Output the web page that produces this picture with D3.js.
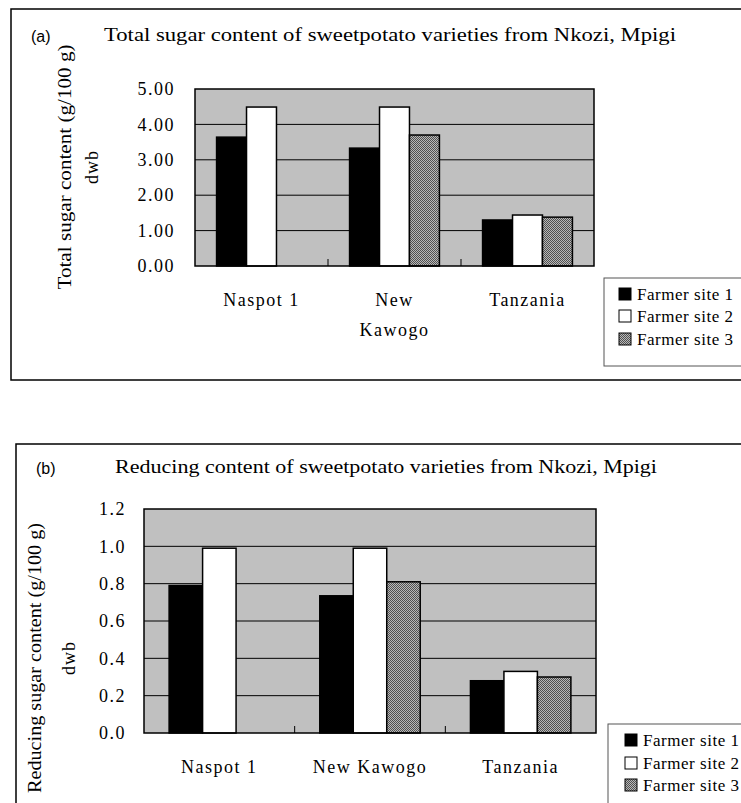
<!DOCTYPE html>
<html>
<head>
<meta charset="utf-8">
<script src="https://cdn.jsdelivr.net/npm/d3@7"></script>
<style>
  html, body { margin: 0; padding: 0; background: #fff; }
  svg { display: block; }
</style>
</head>
<body>
<svg id="chart" width="741" height="803"></svg>
<script>
// ---- data ----
const categories = ["Naspot 1", "New Kawogo", "Tanzania"];
const categoryLinesA = [["Naspot 1"], ["New", "Kawogo"], ["Tanzania"]];
const seriesNames = ["Farmer site 1", "Farmer site 2", "Farmer site 3"];

const totalSite1 = [3.64, 3.33, 1.30];
const totalSite2 = [4.49, 4.49, 1.44];
const totalSite3 = [null, 3.70, 1.38];
const totalTicks = [0, 1, 2, 3, 4, 5];

const reducingSite1 = [0.79, 0.735, 0.28];
const reducingSite2 = [0.99, 0.99, 0.33];
const reducingSite3 = [null, 0.81, 0.30];
const reducingTicks = [0, 0.2, 0.4, 0.6, 0.8, 1.0, 1.2];

const titleA = "Total sugar content of sweetpotato varieties from Nkozi, Mpigi";
const titleB = "Reducing content of sweetpotato varieties from Nkozi, Mpigi";
const yLabelA = "Total sugar content (g/100 g)";
const yLabelB = "Reducing sugar content (g/100 g)";

// ---- drawing ----
const svg = d3.select("#chart");
const serif = "Liberation Serif";
const sans = "Liberation Sans";

const defs = svg.append("defs");
const pat = defs.append("pattern").attr("id", "dots")
  .attr("patternUnits", "userSpaceOnUse").attr("width", 2).attr("height", 2);
pat.append("rect").attr("width", 2).attr("height", 2).attr("fill", "#b8b8b8");
pat.append("rect").attr("x", 0).attr("y", 0).attr("width", 1).attr("height", 1).attr("fill", "#505050");
pat.append("rect").attr("x", 1).attr("y", 1).attr("width", 1).attr("height", 1).attr("fill", "#505050");

const fills = ["#000", "#fff", "url(#dots)"];

function drawPanel(cfg) {
  const g = svg.append("g");
  // outer frame
  g.append("rect").attr("x", cfg.frame[0]).attr("y", cfg.frame[1])
    .attr("width", cfg.frame[2]).attr("height", cfg.frame[3])
    .attr("fill", "none").attr("stroke", "#000").attr("stroke-width", 1.5);

  g.append("text").attr("x", cfg.tagX).attr("y", cfg.titleY + 2)
    .style("font-family", sans).style("font-size", "16px").attr("dominant-baseline", "central")
    .text(cfg.tag);
  g.append("text").attr("x", cfg.titleX).attr("y", cfg.titleY)
    .style("font-family", serif).style("font-size", "19px").attr("dominant-baseline", "central")
    .attr("textLength", cfg.titleLen).attr("lengthAdjust", "spacingAndGlyphs")
    .text(cfg.title);

  const [x0, x1, y0, y1] = cfg.plot; // left, right, top, bottom
  const x = d3.scaleBand().domain(categories).range([x0, x1]).paddingInner(0).paddingOuter(0);
  const xs = d3.scaleBand().domain(seriesNames).range([0, x.bandwidth()])
    .paddingInner(0).paddingOuter(cfg.outerPad);
  const y = d3.scaleLinear().domain(cfg.domain).range([y1, y0]);

  g.append("rect").attr("x", x0).attr("y", y0).attr("width", x1 - x0).attr("height", y1 - y0)
    .attr("fill", "#c0c0c0");

  // gridlines
  g.selectAll(".grid").data(cfg.ticks.slice(1, -1)).join("line")
    .attr("x1", x0).attr("x2", x1).attr("y1", d => y(d)).attr("y2", d => y(d))
    .attr("stroke", "#000").attr("stroke-width", 1);

  // bars
  const data = [];
  cfg.series.forEach((vals, si) => vals.forEach((v, ci) => {
    if (v != null) data.push({ c: categories[ci], s: seriesNames[si], si, v });
  }));
  g.selectAll(".bar").data(data).join("rect")
    .attr("x", d => x(d.c) + xs(d.s))
    .attr("y", d => y(d.v))
    .attr("width", xs.bandwidth())
    .attr("height", d => y(0) - y(d.v))
    .attr("fill", d => fills[d.si])
    .attr("stroke", "#000").attr("stroke-width", 1.5);

  // plot border
  g.append("rect").attr("x", x0).attr("y", y0).attr("width", x1 - x0).attr("height", y1 - y0)
    .attr("fill", "none").attr("stroke", "#000").attr("stroke-width", 1.5);

  // category tick marks (internal boundaries, pointing up)
  g.selectAll(".ctick").data(categories.slice(1)).join("line")
    .attr("x1", d => x(d)).attr("x2", d => x(d))
    .attr("y1", y1).attr("y2", y1 - 7)
    .attr("stroke", "#000").attr("stroke-width", 1);

  // y axis labels
  const yAxis = d3.axisLeft(y).tickValues(cfg.ticks).tickFormat(d3.format(cfg.fmt))
    .tickSize(0).tickPadding(cfg.tickPad);
  const ya = g.append("g").attr("transform", `translate(${x0},0)`).call(yAxis);
  ya.attr("font-family", null).attr("font-size", null);
  ya.select(".domain").remove();
  ya.selectAll("text").style("font-family", serif).style("font-size", "18px")
    .attr("letter-spacing", "1.5px").attr("fill", "#000");

  // category labels
  cfg.catLines.forEach((lines, i) => {
    const cx = x(categories[i]) + x.bandwidth() / 2;
    lines.forEach((ln, j) => {
      g.append("text").attr("x", cx).attr("y", cfg.catY + j * 30)
        .attr("text-anchor", "middle").attr("dominant-baseline", "central")
        .style("font-family", serif).style("font-size", "18px").attr("letter-spacing", "1.5px")
        .text(ln);
    });
  });

  // y title (two lines)
  g.append("text").attr("transform", `translate(${cfg.yLabX[0]},${cfg.yLabY}) rotate(-90)`)
    .attr("text-anchor", "middle").attr("dominant-baseline", "central")
    .style("font-family", serif).style("font-size", "18px")
    .attr("textLength", cfg.yLabLen).attr("lengthAdjust", "spacingAndGlyphs")
    .text(cfg.yLabel);
  g.append("text").attr("transform", `translate(${cfg.yLabX[1]},${cfg.yLabY}) rotate(-90)`)
    .attr("text-anchor", "middle").attr("dominant-baseline", "central")
    .style("font-family", serif).style("font-size", "18px").attr("letter-spacing", "1px")
    .text("dwb");

  // legend
  const [lx, ly, lw, lh] = cfg.legend;
  g.append("rect").attr("x", lx).attr("y", ly).attr("width", lw).attr("height", lh)
    .attr("fill", "#fff").attr("stroke", "#555").attr("stroke-width", 1);
  seriesNames.forEach((s, i) => {
    const cy = cfg.legendRows[i];
    g.append("rect").attr("x", cfg.legendSwX).attr("y", cy - 6).attr("width", 12).attr("height", 12)
      .attr("fill", fills[i]).attr("stroke", "#000").attr("stroke-width", 1);
    g.append("text").attr("x", cfg.legendSwX + 18).attr("y", cy)
      .attr("dominant-baseline", "central").style("font-family", serif).style("font-size", "17px")
      .attr("textLength", 96).attr("lengthAdjust", "spacing")
      .text(s);
  });
}

drawPanel({
  frame: [11, 9, 760, 371],
  tag: "(a)", tagX: 31, titleX: 104, titleY: 34, title: titleA, titleLen: 572,
  plot: [195, 594, 89, 266],
  domain: [0, 5], ticks: totalTicks, fmt: ".2f", tickPad: 20,
  series: [totalSite1, totalSite2, totalSite3], outerPad: 0.72,
  catLines: categoryLinesA, catY: 300,
  yLabel: yLabelA, yLabX: [65, 92], yLabY: 167, yLabLen: 245,
  legend: [604, 278, 160, 88], legendSwX: 619, legendRows: [294, 316, 339]
});

drawPanel({
  frame: [16, 444, 760, 400],
  tag: "(b)", tagX: 36, titleX: 115, titleY: 466, title: titleB, titleLen: 542,
  plot: [144, 596, 509, 733],
  domain: [0, 1.2], ticks: reducingTicks, fmt: ".1f", tickPad: 18,
  series: [reducingSite1, reducingSite2, reducingSite3], outerPad: 0.75,
  catLines: [["Naspot 1"], ["New Kawogo"], ["Tanzania"]], catY: 767,
  yLabel: yLabelB, yLabX: [35, 69], yLabY: 658, yLabLen: 270,
  legend: [608, 724, 160, 100], legendSwX: 625, legendRows: [740, 763, 785]
});
</script>
</body>
</html>
